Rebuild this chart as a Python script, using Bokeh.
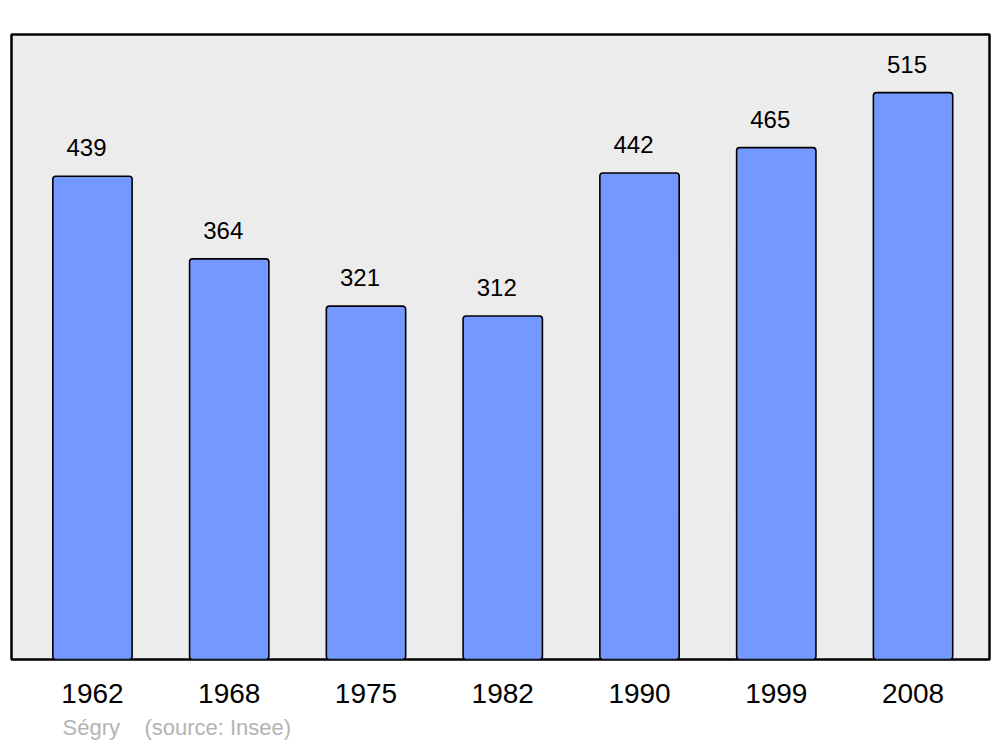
from bokeh.plotting import figure
from bokeh.models import ColumnDataSource, LabelSet, Range1d, FixedTicker, Title
from bokeh.core.properties import value
from bokeh.embed import file_html
from bokeh.resources import INLINE

years = ["1962", "1968", "1975", "1982", "1990", "1999", "2008"]
population = [439, 364, 321, 312, 442, 465, 515]
footer = "Ségry\u00a0\u00a0\u00a0\u00a0(source: Insee)"

xs = list(range(len(years)))
src = ColumnDataSource(dict(x=xs, top=population, label=[str(v) for v in population]))

p = figure(width=1000, height=747, output_backend="svg", toolbar_location=None,
           x_range=Range1d(-0.592, len(years) - 1 + 0.559), y_range=Range1d(0, 567.8),
           min_border_left=11, min_border_right=11, min_border_top=34, min_border_bottom=87)
p.background_fill_color = "#ececec"
p.border_fill_color = "white"
p.outline_line_color = "black"
p.outline_line_width = 2.5
p.outline_line_alpha = 1
p.grid.visible = False
p.yaxis.visible = False

p.vbar(x="x", top="top", bottom=0, width=0.58, source=src, fill_color="#7399ff",
       line_color="black", line_width=1.6, border_radius=3)

labels = LabelSet(x="x", y="top", text="label", source=src, x_offset=-6, y_offset=20,
                  text_align="center", text_baseline="alphabetic",
                  text_font=value("Liberation Sans"),
                  text_font_size="24px", text_color="black")
p.add_layout(labels)

ax = p.xaxis[0]
ax.ticker = FixedTicker(ticks=xs)
ax.major_label_overrides = {i: y for i, y in zip(xs, years)}
ax.axis_line_color = None
ax.major_tick_line_color = None
ax.minor_tick_line_color = None
ax.major_tick_out = 0
ax.major_tick_in = 0
ax.major_label_standoff = 24
ax.major_label_text_font = "Liberation Sans"
ax.major_label_text_font_size = "28px"
ax.major_label_text_color = "black"

t = Title(text=footer, align="left", offset=51, text_font="Liberation Sans",
          text_font_size="22px", text_font_style="normal", text_color="#b4b4b4", standoff=15)
p.add_layout(t, "below")

open("out.html", "w").write(file_html(p, INLINE))
